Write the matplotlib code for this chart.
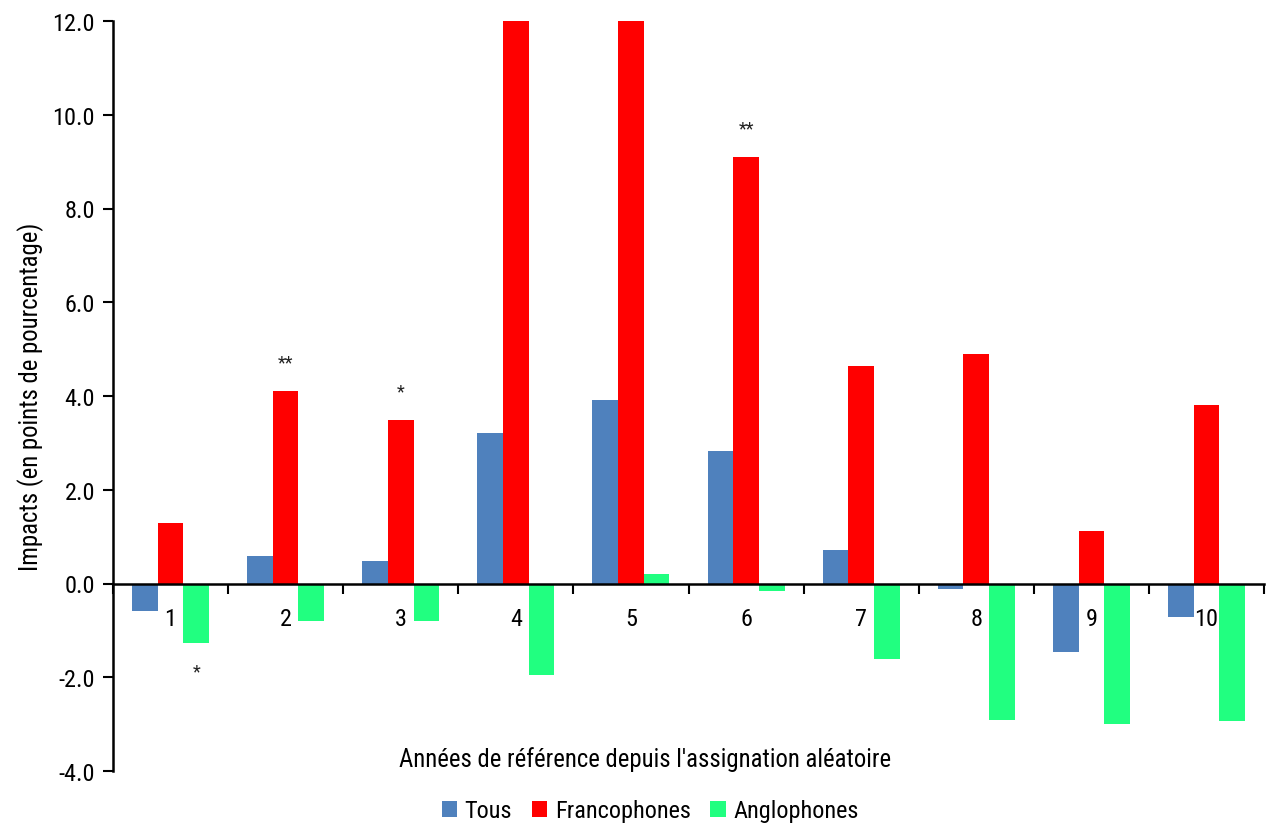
import matplotlib
matplotlib.use("Agg")
import matplotlib.pyplot as plt
import numpy as np
from matplotlib.patches import Patch
from matplotlib import font_manager

names = set(f.name for f in font_manager.fontManager.ttflist)
pref = [n for n in ['Liberation Sans Narrow', 'Arial Narrow', 'Roboto Condensed', 'Open Sans Condensed', 'Roboto']
        if n in names]
plt.rcParams['font.family'] = pref + ['Liberation Sans', 'DejaVu Sans']

years = ['1', '2', '3', '4', '5', '6', '7', '8', '9', '10']
tous = [-0.58, 0.59, 0.47, 3.22, 3.92, 2.82, 0.72, -0.11, -1.46, -0.71]
franco = [1.29, 4.11, 3.49, 13.5, 13.5, 9.10, 4.65, 4.89, 1.11, 3.81]
anglo = [-1.27, -0.80, -0.80, -1.96, 0.21, -0.16, -1.61, -2.91, -3.00, -2.94]
series_names = ['Tous', 'Francophones', 'Anglophones']
colors = ['#4F81BD', '#FF0000', '#21FF80']
# significance markers: (year index, series index, text)
stars = [(0, 2, '*'), (1, 1, '**'), (2, 1, '*'), (5, 1, '**')]

fig = plt.figure(figsize=(12.7, 8.29), dpi=100)
ax = fig.add_axes([113/1270, 57/829, 1151/1270, 750/829])

x = np.arange(1, len(years) + 1)
w = 0.223
data = [tous, franco, anglo]
for k, (vals, c) in enumerate(zip(data, colors)):
    ax.bar(x + (k - 1) * w, vals, width=w, color=c, edgecolor='none', zorder=2)

for i, s, t in stars:
    v = data[s][i]
    xi = x[i] + (s - 1) * w
    if v >= 0:
        ax.annotate(t, (xi, v), xytext=(0, 14), textcoords='offset points',
                    ha='center', va='bottom', fontsize=13, color='#222222')
    else:
        ax.annotate(t, (xi, v), xytext=(0, -14), textcoords='offset points',
                    ha='center', va='top', fontsize=13, color='#222222')

ax.set_ylim(-4, 12)
ax.set_xlim(0.5, 10.5)
ax.set_yticks(np.arange(-4, 12.1, 2))
ax.set_yticklabels([f'{v:.1f}' for v in np.arange(-4, 12.1, 2)], fontsize=17.5)
ax.tick_params(axis='y', direction='out', length=7, width=1.5, pad=6, colors='black')

ax.spines['top'].set_visible(False)
ax.spines['right'].set_visible(False)
ax.spines['bottom'].set_position(('data', 0))
ax.spines['left'].set_linewidth(1.8)
ax.spines['bottom'].set_linewidth(1.8)
ax.spines['bottom'].set_zorder(3)

ax.set_xticks(x)
ax.set_xticklabels(years, fontsize=17.5)
ax.set_xticks(np.arange(0.5, 10.6, 1), minor=True)
ax.tick_params(axis='x', which='major', length=0, pad=17)
ax.tick_params(axis='x', which='minor', direction='out', length=7, width=1.5)

ax.set_ylabel('Impacts (en points de pourcentage)', fontsize=17.8, labelpad=6)

fig.text(645/1270, 1 - 760/829, "Années de référence depuis l'assignation aléatoire",
         ha='center', va='center', fontsize=17.8)

handles = [Patch(facecolor=c, edgecolor='none') for c in colors]
fig.legend(handles, series_names, loc='center', bbox_to_anchor=(650/1270, 17/829),
           ncol=3, frameon=False, fontsize=17.5, handlelength=0.65, handleheight=0.65,
           handletextpad=0.3, columnspacing=0.8)

fig.savefig('out.png', dpi=100)
